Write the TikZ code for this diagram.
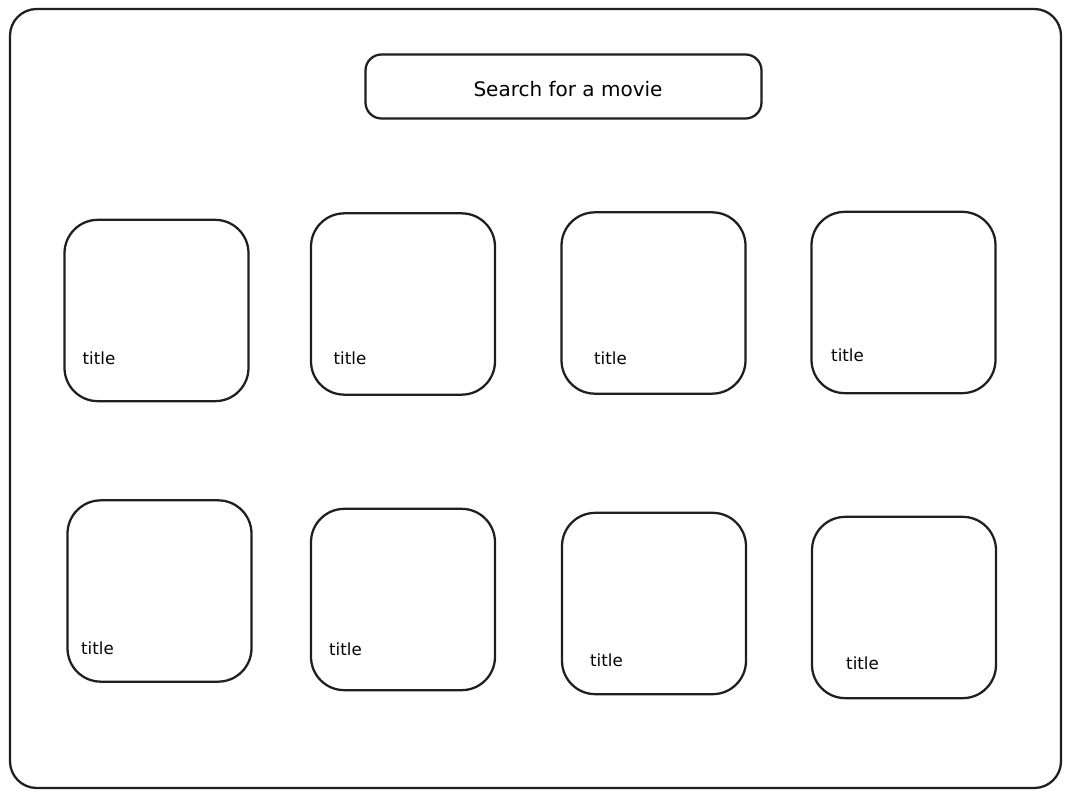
\documentclass[tikz,border=0pt]{standalone}
\usepackage{fontspec}
\setmainfont{DejaVu Sans}
\begin{document}
\begin{tikzpicture}[x=0.75pt,y=-0.75pt,
  card/.style={draw=black!88,line width=1.7pt,rounded corners=25pt,minimum width=138pt,minimum height=136pt,inner sep=0pt},
  searchbox/.style={draw=black!88,line width=1.7pt,rounded corners=12pt,minimum width=297pt,minimum height=48pt,inner sep=0pt},
  label/.style={inner sep=0pt,font=\fontsize{12.5}{15}\selectfont}]
\useasboundingbox (0,0) rectangle (1071,798);
\draw [black!88,line width=1.7pt,rounded corners=20pt] (10,9) rectangle (1061,788);
\node (search) [searchbox] at (563.5,86.5) {};
\node (searchtext) [inner sep=0pt,font=\fontsize{15}{18}\selectfont] at (568,89) {Search for a movie};
% first row
\node (card1) [card] at (156.5,310.5) {};
\node (title1) [label] at (99,358) {title};
\node (card2) [card] at (403,304) {};
\node (title2) [label] at (350,358) {title};
\node (card3) [card] at (653.5,303) {};
\node (title3) [label] at (610.5,358) {title};
\node (card4) [card] at (903.5,302.5) {};
\node (title4) [label] at (847.5,355) {title};
% second row
\node (card5) [card] at (159.5,591) {};
\node (title5) [label] at (97.5,648) {title};
\node (card6) [card] at (403,599.5) {};
\node (title6) [label] at (345.5,649) {title};
\node (card7) [card] at (654,603.5) {};
\node (title7) [label] at (606.5,660) {title};
\node (card8) [card] at (904,607.5) {};
\node (title8) [label] at (862.5,663) {title};
\end{tikzpicture}
\end{document}
